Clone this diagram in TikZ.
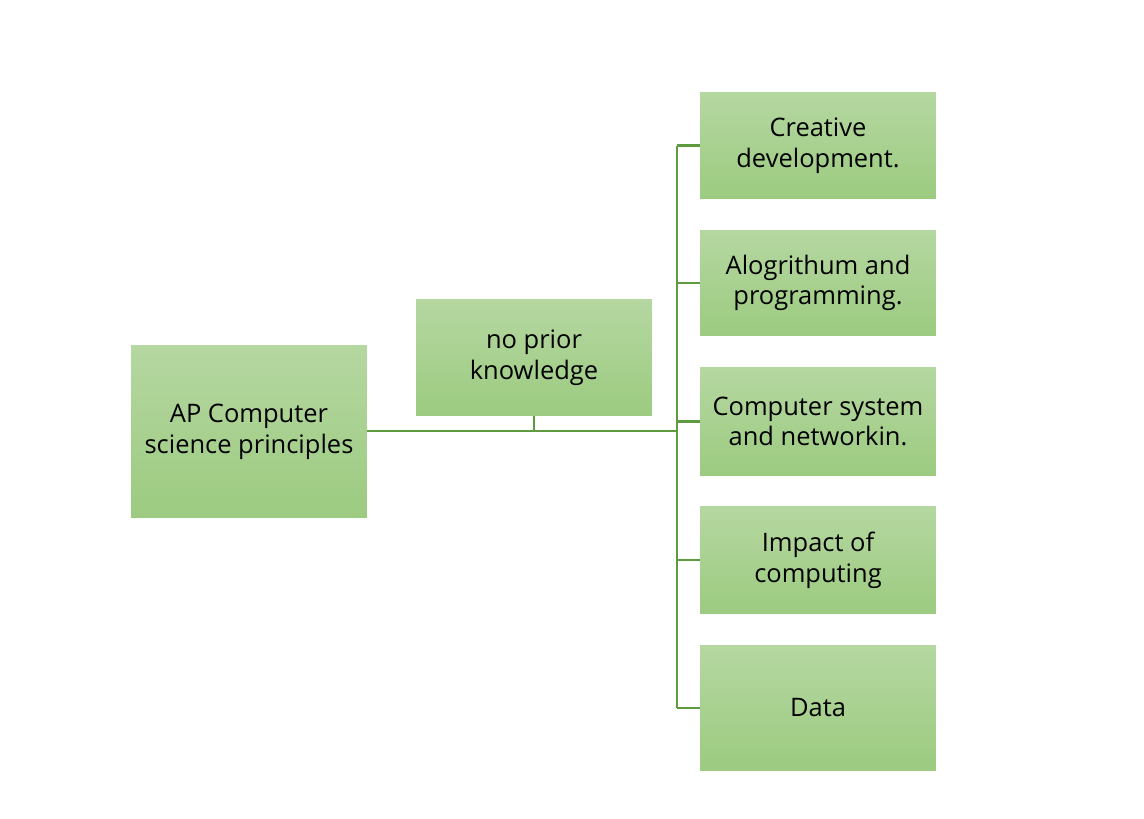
\documentclass[tikz,border=0pt]{standalone}
\usepackage{fontspec}
\setmainfont{Open Sans}
\usetikzlibrary{positioning}
\definecolor{boxtop}{HTML}{B5D7A1}
\definecolor{boxbot}{HTML}{9CCB80}
\definecolor{linkgreen}{HTML}{5E9A3E}
\tikzset{
  topic/.style={minimum width=4.72cm, inner sep=2pt, align=center,
    top color=boxtop, bottom color=boxbot,
    font=\fontsize{14.5}{17.5}\selectfont},
  link/.style={draw=linkgreen, line width=1.3pt}
}
\begin{document}
\begin{tikzpicture}[x=0.02cm,y=-0.02cm]
    \useasboundingbox (0,0) rectangle (1144,819);

    \node[topic, minimum height=3.46cm] (ap) at (249,431.5) {AP Computer\\science principles};
    \node[topic, minimum height=2.34cm] (prior) at (534,357.5) {no prior\\knowledge};

    \node[topic, minimum height=2.14cm] (creative) at (818,145.5) {Creative\\development.};
    \node[topic, minimum height=2.12cm] (algo) at (818,283) {Alogrithum and\\programming.};
    \node[topic, minimum height=2.18cm] (system) at (818,421.5) {Computer system\\and networkin.};
    \node[topic, minimum height=2.16cm] (impact) at (818,560) {Impact of\\computing};
    \node[topic, minimum height=2.52cm] (data) at (818,708) {Data};

    \coordinate (hub) at (677,431);
    \coordinate (top) at (677,145.5);
    \coordinate (bottom) at (677,708);

    \draw[link] (ap.east |- hub) -- (hub);
    \draw[link] (prior.south) -- (prior.south |- hub);
    \draw[link] (top) -- (bottom);
    \foreach \n in {creative,algo,system,impact,data}
        \draw[link] (top |- \n.west) -- (\n.west);
\end{tikzpicture}
\end{document}
